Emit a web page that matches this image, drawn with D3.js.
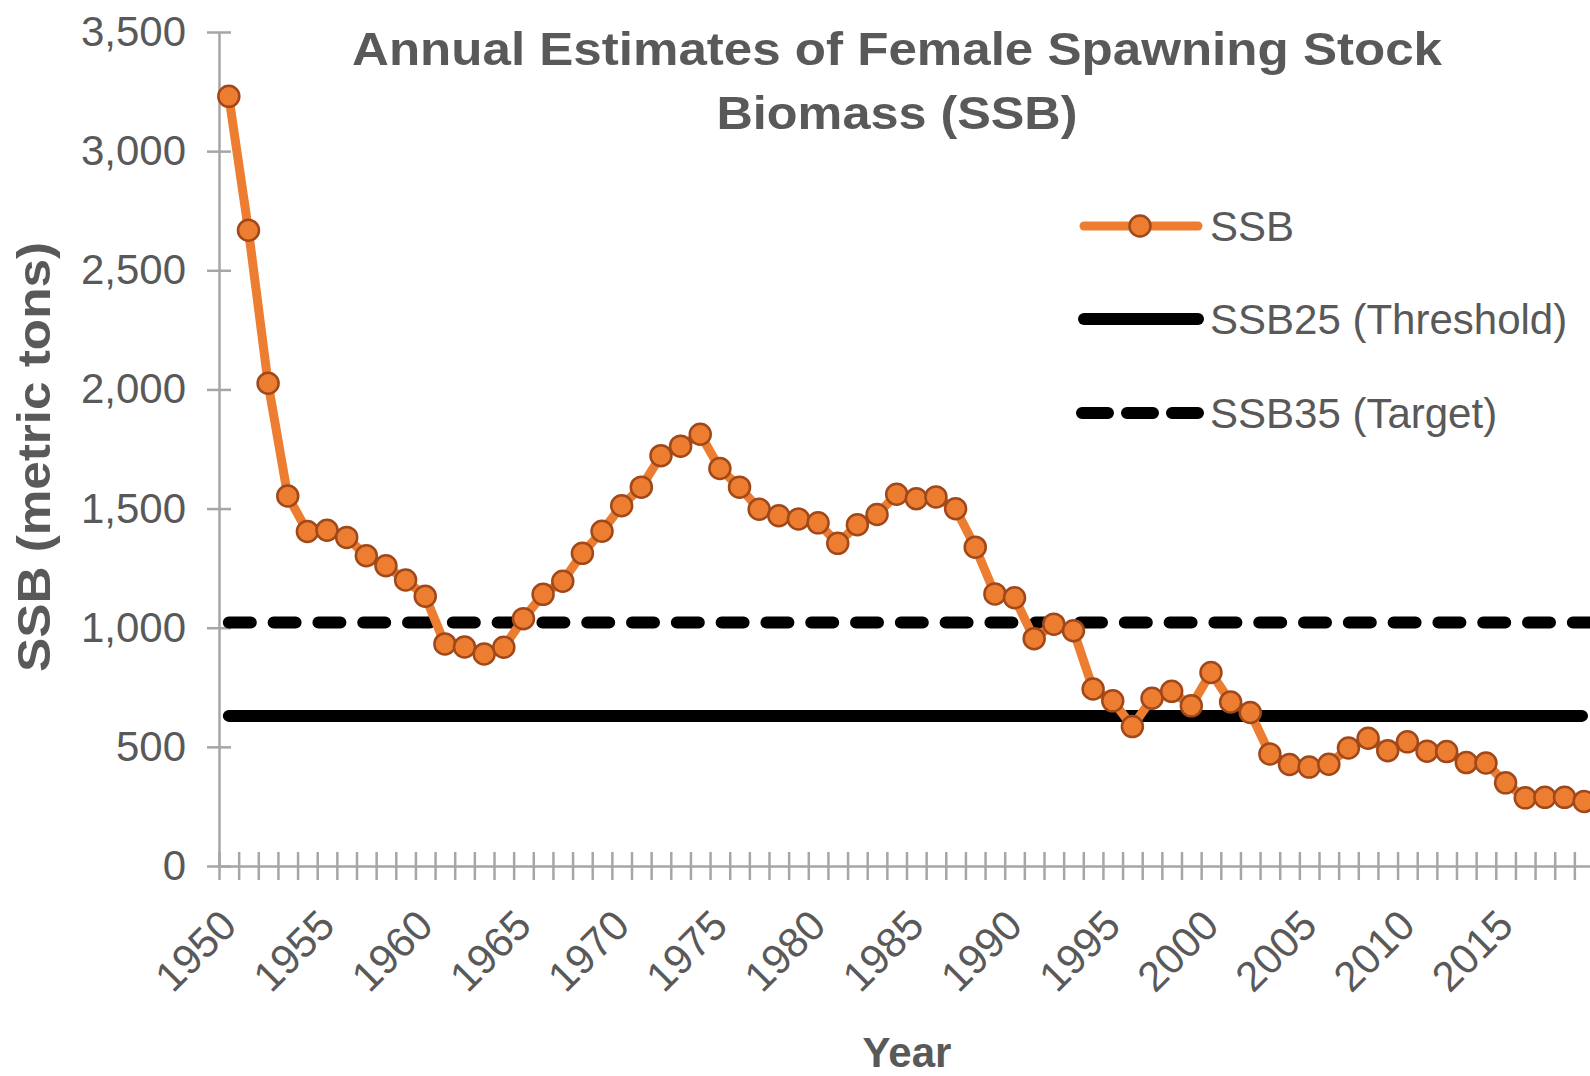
<!DOCTYPE html>
<html>
<head>
<meta charset="utf-8">
<script src="https://cdn.jsdelivr.net/npm/d3@7"></script>
<style>
  body { margin: 0; background: #fff; }
  svg { display: block; font-family: "Liberation Sans", Arial, sans-serif; }
</style>
</head>
<body>
<div id="chart"></div>
<script>
// data
const years = d3.range(1950, 2020);
const ssb = [
  3230, 2668, 2026, 1553, 1404, 1409, 1379, 1302, 1260, 1200,
  1132, 932, 919, 890, 918, 1038, 1140, 1195, 1312, 1405,
  1512, 1590, 1722, 1762, 1812, 1668, 1590, 1497, 1470, 1456,
  1440, 1354, 1432, 1475, 1560, 1541, 1549, 1499, 1338, 1142,
  1126, 954, 1015, 987, 743, 693, 585, 704, 733, 672,
  812, 688, 644, 470, 426, 415, 427, 495, 536, 484,
  521, 482, 480, 434, 432, 349, 286, 288, 288, 271
];
const ssb25 = 630;   // threshold
const ssb35 = 1022;  // target
const yTicks = [0, 500, 1000, 1500, 2000, 2500, 3000, 3500];
const xLabels = years.filter(d => d % 5 === 0);
const legendItems = ['SSB', 'SSB25 (Threshold)', 'SSB35 (Target)'];

const width = 1590, height = 1076;
// plot runs a little past the right edge, as in the original
const plot = { left: 219, right: 1594, top: 32, bottom: 866 };
const gray = '#595959', axisGray = '#a6a6a6';
const orange = '#ed7d31', orangeDark = '#a0481a';

const svg = d3.select('#chart').append('svg')
    .attr('width', width)
    .attr('height', height);

const x = d3.scaleBand()
    .domain(years)
    .range([plot.left, plot.right])
    .padding(0);
const xc = d => x(d) + x.bandwidth() / 2;
const xIdx = d3.scaleLinear().domain([0, years.length]).range([plot.left, plot.right]);

const y = d3.scaleLinear()
    .domain([0, 3500])
    .range([plot.bottom, plot.top]);

// y axis
const yAxis = svg.append('g')
    .attr('transform', `translate(${plot.left},0)`)
    .call(d3.axisLeft(y).tickValues(yTicks).tickFormat(d3.format(',')).tickSizeOuter(0));
yAxis.select('.domain').attr('stroke', axisGray).attr('stroke-width', 2.5);
yAxis.selectAll('.tick line').attr('x1', -12).attr('x2', 12)
    .attr('stroke', axisGray).attr('stroke-width', 2.5);
yAxis.selectAll('.tick text')
    .attr('x', -33)
    .attr('fill', gray)
    .style('font-size', '42px');

// x axis: ticks between categories
const xTickAxis = svg.append('g')
    .attr('transform', `translate(0,${plot.bottom})`)
    .call(d3.axisBottom(xIdx).tickValues(d3.range(0, years.length + 1)).tickFormat('').tickSizeOuter(0));
xTickAxis.select('.domain').attr('stroke', axisGray).attr('stroke-width', 2.5);
xTickAxis.selectAll('.tick line').attr('y1', -14).attr('y2', 14)
    .attr('stroke', axisGray).attr('stroke-width', 2.5);

// x labels every 5 years
const xLabelAxis = svg.append('g')
    .attr('transform', `translate(0,${plot.bottom})`)
    .call(d3.axisBottom(x).tickValues(xLabels).tickSize(0));
xLabelAxis.select('.domain').remove();
xLabelAxis.selectAll('.tick text')
    .attr('x', 0).attr('y', 0).attr('dy', 0)
    .attr('text-anchor', 'end')
    .attr('transform', 'translate(10,62) rotate(-45)')
    .attr('fill', gray)
    .style('font-size', '42px');

// reference lines
const xStart = xc(years[0]);
svg.append('line')
    .attr('x1', xStart).attr('x2', plot.right - 12)
    .attr('y1', y(ssb25)).attr('y2', y(ssb25))
    .attr('stroke', '#000').attr('stroke-width', 12)
    .attr('stroke-linecap', 'round');
svg.append('line')
    .attr('x1', xStart).attr('x2', plot.right)
    .attr('y1', y(ssb35)).attr('y2', y(ssb35))
    .attr('stroke', '#000').attr('stroke-width', 12)
    .attr('stroke-linecap', 'round')
    .attr('stroke-dasharray', '22,22.8');

// SSB line and markers
const line = d3.line()
    .x((d, i) => xc(years[i]))
    .y(d => y(d));
svg.append('path')
    .datum(ssb)
    .attr('d', line)
    .attr('fill', 'none')
    .attr('stroke', orange)
    .attr('stroke-width', 9)
    .attr('stroke-linejoin', 'round');
svg.append('g').selectAll('circle')
    .data(ssb)
    .enter()
    .append('circle')
    .attr('cx', (d, i) => xc(years[i]))
    .attr('cy', d => y(d))
    .attr('r', 10.5)
    .attr('fill', orange)
    .attr('stroke', orangeDark)
    .attr('stroke-width', 2.5);

// title
const title = svg.append('text')
    .attr('text-anchor', 'middle')
    .attr('fill', gray)
    .style('font-size', '46px')
    .style('font-weight', 'bold');
title.append('tspan').attr('x', 897).attr('y', 65)
    .attr('textLength', 1090).attr('lengthAdjust', 'spacingAndGlyphs')
    .text('Annual Estimates of Female Spawning Stock');
title.append('tspan').attr('x', 897).attr('y', 129)
    .attr('textLength', 361).attr('lengthAdjust', 'spacingAndGlyphs')
    .text('Biomass (SSB)');

// axis titles
svg.append('text')
    .attr('transform', 'translate(50,457) rotate(-90)')
    .attr('text-anchor', 'middle')
    .attr('fill', gray)
    .attr('textLength', 430).attr('lengthAdjust', 'spacingAndGlyphs')
    .style('font-size', '46px')
    .style('font-weight', 'bold')
    .text('SSB (metric tons)');
svg.append('text')
    .attr('x', 907).attr('y', 1067)
    .attr('text-anchor', 'middle')
    .attr('fill', gray)
    .style('font-size', '42px')
    .style('font-weight', 'bold')
    .text('Year');

// legend
const legendY = [226, 319, 413];
const lg = svg.append('g');
legendItems.forEach((name, i) => {
    const g = lg.append('g').attr('transform', `translate(0,${legendY[i]})`);
    const l = g.append('line')
        .attr('x1', 1084).attr('x2', 1198)
        .attr('stroke-linecap', 'round');
    if (i === 0) {
        l.attr('stroke', orange).attr('stroke-width', 9);
        g.append('circle').attr('cx', 1140).attr('cy', 0).attr('r', 10.5)
            .attr('fill', orange).attr('stroke', orangeDark).attr('stroke-width', 2.5);
    } else {
        l.attr('stroke', '#000').attr('stroke-width', 12);
        if (i === 2) l.attr('stroke-dasharray', '26,19').attr('x1', 1082);
    }
    g.append('text')
        .attr('x', 1210).attr('y', 0).attr('dy', '0.36em')
        .attr('fill', gray)
        .style('font-size', '42px')
        .text(name);
});
</script>
</body>
</html>
